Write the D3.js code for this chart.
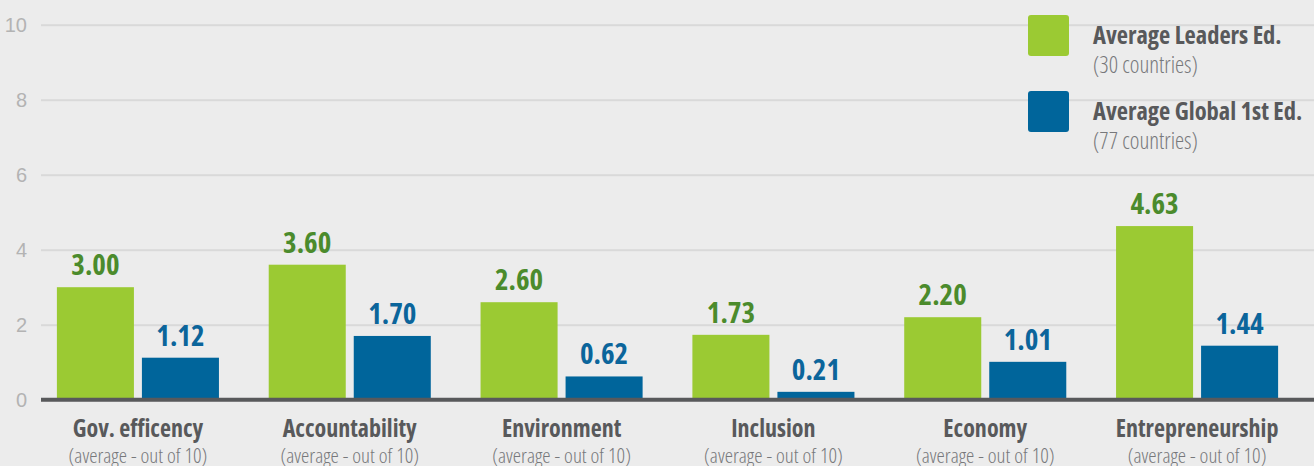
<!DOCTYPE html>
<html>
<head>
<meta charset="utf-8">
<script src="https://cdn.jsdelivr.net/npm/d3@7"></script>
<style>
  body { margin: 0; background: #ececec; }
  svg { display: block; font-family: "Open Sans", "Liberation Sans Narrow", sans-serif; font-stretch: 75%; }
  .tick-label { fill: #b3b3b3; font-size: 20px; font-weight: 300; }
  .val { font-size: 29px; font-weight: 700; }
  .cat { fill: #58595b; font-size: 24px; font-weight: 700; }
  .sub { fill: #77787b; font-size: 21px; font-weight: 300; }
  .leg-title { fill: #58595b; font-size: 24.5px; font-weight: 700; }
  .leg-sub { fill: #77787b; font-size: 23px; font-weight: 300; }
</style>
</head>
<body>
<svg id="chart"></svg>
<script>
// chart data
const categories = ['Gov. efficency', 'Accountability', 'Environment', 'Inclusion', 'Economy', 'Entrepreneurship'];
const categorySub = '(average - out of 10)';
const series = ['Average Leaders Ed.', 'Average Global 1st Ed.'];
const seriesSub = ['(30 countries)', '(77 countries)'];
const leadersValues = [3.00, 3.60, 2.60, 1.73, 2.20, 4.63];
const globalValues = [1.12, 1.70, 0.62, 0.21, 1.01, 1.44];
const yTicks = [0, 2, 4, 6, 8, 10];

const barColors = ['#9bca33', '#00659b'];
const labelColors = ['#4b8b2c', '#0b659b'];

const width = 1314, height = 466;

const svg = d3.select('#chart')
    .attr('width', width)
    .attr('height', height);

// scales
const yScale = d3.scaleLinear()
    .domain([0, 10])
    .range([399.7, 24.7]);

const xScale = d3.scaleBand()
    .domain(categories)
    .range([32, 1303])
    .paddingInner(0.235)
    .paddingOuter(0.1175);

const xInner = d3.scaleBand()
    .domain(series)
    .range([0, xScale.bandwidth()])
    .paddingInner(0.094);

// gridlines + tick labels via axis
const yAxis = d3.axisLeft(yScale)
    .tickValues(yTicks)
    .tickSize(-(width - 41))
    .tickPadding(14)
    .tickFormat(d3.format('d'));

const yAxisG = svg.append('g')
    .attr('transform', 'translate(41,0)')
    .call(yAxis);

yAxisG.select('.domain').remove();
yAxisG.selectAll('.tick line')
    .attr('stroke', '#d9d9d9')
    .attr('stroke-width', 2);
yAxisG.selectAll('.tick text')
    .attr('class', 'tick-label')
    .attr('dy', '0.35em');

// data rows
const rows = categories.map((c, i) => ({
  cat: c,
  vals: [leadersValues[i], globalValues[i]]
}));

const groups = svg.selectAll('.group')
    .data(rows)
  .join('g')
    .attr('class', 'group')
    .attr('transform', d => `translate(${xScale(d.cat)},0)`);

const cells = groups.selectAll('.cell')
    .data(d => d.vals.map((v, j) => ({ s: series[j], v: v, j: j })))
  .join('g')
    .attr('class', 'cell');

cells.append('rect')
    .attr('x', d => xInner(d.s))
    .attr('y', d => yScale(d.v))
    .attr('width', xInner.bandwidth())
    .attr('height', d => yScale(0) - yScale(d.v))
    .attr('fill', d => barColors[d.j]);

cells.append('text')
    .attr('class', 'val')
    .attr('x', d => xInner(d.s) + xInner.bandwidth() / 2)
    .attr('y', d => yScale(d.v) - 12)
    .attr('text-anchor', 'middle')
    .attr('fill', d => labelColors[d.j])
    .text(d => d.v.toFixed(2));

// baseline
svg.append('line')
    .attr('x1', 41)
    .attr('x2', width)
    .attr('y1', yScale(0))
    .attr('y2', yScale(0))
    .attr('stroke', '#58595b')
    .attr('stroke-width', 4);

// category labels
const catG = svg.selectAll('.cat-label')
    .data(categories)
  .join('g')
    .attr('class', 'cat-label')
    .attr('transform', d => `translate(${xScale(d) + xScale.bandwidth() / 2},0)`);

catG.append('text')
    .attr('class', 'cat')
    .attr('y', 437)
    .attr('text-anchor', 'middle')
    .text(d => d);

catG.append('text')
    .attr('class', 'sub')
    .attr('y', 463)
    .attr('text-anchor', 'middle')
    .text(categorySub);

// legend
const legend = svg.selectAll('.legend')
    .data(series)
  .join('g')
    .attr('class', 'legend')
    .attr('transform', (d, i) => `translate(1028,${15 + i * 76})`);

legend.append('rect')
    .attr('width', 41)
    .attr('height', 41)
    .attr('rx', 3)
    .attr('fill', (d, i) => barColors[i]);

legend.append('text')
    .attr('class', 'leg-title')
    .attr('x', 65)
    .attr('y', 29)
    .text(d => d);

legend.append('text')
    .attr('class', 'leg-sub')
    .attr('x', 65)
    .attr('y', 58)
    .text((d, i) => seriesSub[i]);
</script>
</body>
</html>
